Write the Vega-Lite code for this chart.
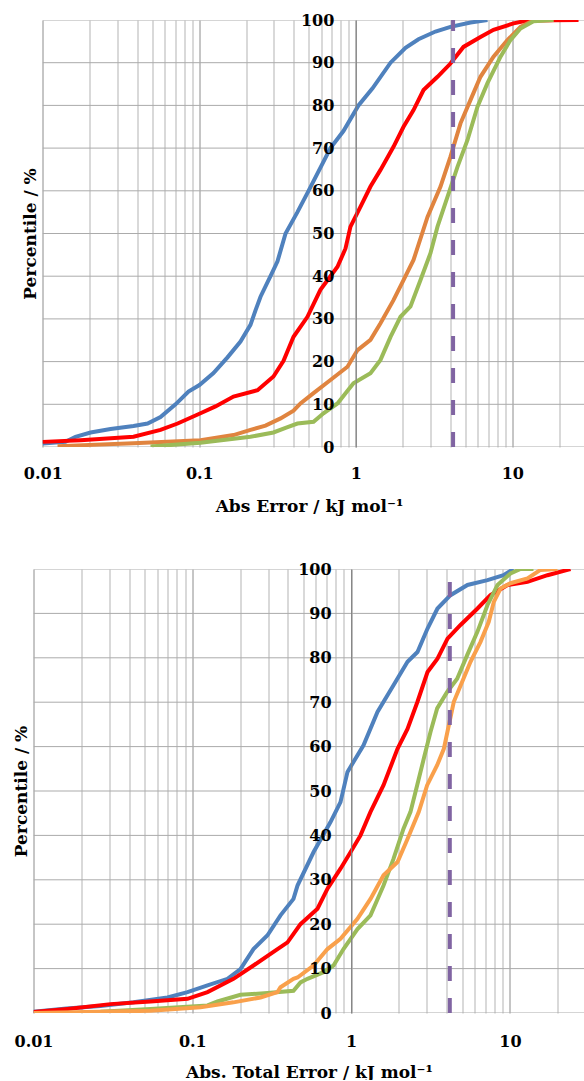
{
"$schema": "https://vega.github.io/schema/vega-lite/v6.json",
"background": "white",
"padding": {"left": 12.5, "top": 12, "right": 0, "bottom": 0},
"spacing": 47,
"config": {"view": {"stroke": null}},
"datasets": {
"gridY": [{"p":0},{"p":10},{"p":20},{"p":30},{"p":40},{"p":50},{"p":60},{"p":70},{"p":80},{"p":90},{"p":100}],
"kcal": [{"x": 4.184}],
"top": [
{"s":"S1","x":0.0100,"p":0.8},{"s":"S1","x":0.01396,"p":1.2},{"s":"S1","x":0.01618,"p":2.4},{"s":"S1","x":0.0202,"p":3.4},{"s":"S1","x":0.0271,"p":4.2},{"s":"S1","x":0.0380,"p":4.9},{"s":"S1","x":0.0467,"p":5.5},{"s":"S1","x":0.0565,"p":7},{"s":"S1","x":0.0705,"p":10},{"s":"S1","x":0.0853,"p":13},{"s":"S1","x":0.1002,"p":14.5},{"s":"S1","x":0.1232,"p":17.3},{"s":"S1","x":0.1514,"p":21},{"s":"S1","x":0.1833,"p":24.7},{"s":"S1","x":0.2123,"p":28.6},{"s":"S1","x":0.2286,"p":32},{"s":"S1","x":0.2461,"p":35.2},{"s":"S1","x":0.2891,"p":40.5},{"s":"S1","x":0.316,"p":43.5},{"s":"S1","x":0.3557,"p":50},{"s":"S1","x":0.4236,"p":55},{"s":"S1","x":0.4989,"p":60},{"s":"S1","x":0.6887,"p":70},{"s":"S1","x":0.8337,"p":74},{"s":"S1","x":1.040,"p":80},{"s":"S1","x":1.279,"p":84},{"s":"S1","x":1.667,"p":90},{"s":"S1","x":2.078,"p":93.5},{"s":"S1","x":2.515,"p":95.5},{"s":"S1","x":3.229,"p":97.3},{"s":"S1","x":4.027,"p":98.4},{"s":"S1","x":5.41,"p":99.4},{"s":"S1","x":6.94,"p":100},
{"s":"S2","x":0.0100,"p":1.2},{"s":"S2","x":0.01742,"p":1.6},{"s":"S2","x":0.0380,"p":2.4},{"s":"S2","x":0.0565,"p":4},{"s":"S2","x":0.0727,"p":5.5},{"s":"S2","x":0.1018,"p":7.9},{"s":"S2","x":0.1269,"p":9.5},{"s":"S2","x":0.1654,"p":11.8},{"s":"S2","x":0.2355,"p":13.3},{"s":"S2","x":0.2978,"p":16.5},{"s":"S2","x":0.3453,"p":20.2},{"s":"S2","x":0.400,"p":25.8},{"s":"S2","x":0.4909,"p":30.5},{"s":"S2","x":0.594,"p":36.8},{"s":"S2","x":0.7637,"p":42.2},{"s":"S2","x":0.8595,"p":46.5},{"s":"S2","x":0.9246,"p":51.6},{"s":"S2","x":1.072,"p":56.3},{"s":"S2","x":1.241,"p":61},{"s":"S2","x":1.438,"p":64.9},{"s":"S2","x":1.741,"p":70.3},{"s":"S2","x":2.018,"p":75},{"s":"S2","x":2.338,"p":78.9},{"s":"S2","x":2.708,"p":83.6},{"s":"S2","x":3.327,"p":86.7},{"s":"S2","x":4.027,"p":89.8},{"s":"S2","x":4.877,"p":93.7},{"s":"S2","x":6.26,"p":96},{"s":"S2","x":7.585,"p":97.7},{"s":"S2","x":10.18,"p":99.2},{"s":"S2","x":12.5,"p":99.9},{"s":"S2","x":26.5,"p":100},
{"s":"S3","x":0.01242,"p":0.2},{"s":"S3","x":0.0380,"p":0.9},{"s":"S3","x":0.1018,"p":1.6},{"s":"S3","x":0.1654,"p":2.8},{"s":"S3","x":0.2123,"p":4},{"s":"S3","x":0.2649,"p":5},{"s":"S3","x":0.3305,"p":6.7},{"s":"S3","x":0.400,"p":8.5},{"s":"S3","x":0.4431,"p":10.2},{"s":"S3","x":0.537,"p":12.6},{"s":"S3","x":0.6887,"p":15.7},{"s":"S3","x":0.885,"p":18.8},{"s":"S3","x":1.026,"p":22.7},{"s":"S3","x":1.241,"p":25.1},{"s":"S3","x":1.438,"p":29},{"s":"S3","x":1.741,"p":34.4},{"s":"S3","x":2.018,"p":39.1},{"s":"S3","x":2.338,"p":43.8},{"s":"S3","x":2.872,"p":53.9},{"s":"S3","x":3.478,"p":61},{"s":"S3","x":4.027,"p":68},{"s":"S3","x":4.667,"p":75.8},{"s":"S3","x":5.41,"p":81.3},{"s":"S3","x":6.26,"p":86.7},{"s":"S3","x":7.585,"p":91.4},{"s":"S3","x":9.31,"p":95.3},{"s":"S3","x":11.28,"p":98.4},{"s":"S3","x":13.66,"p":99.9},{"s":"S3","x":18.33,"p":100},
{"s":"S4","x":0.0488,"p":0.1},{"s":"S4","x":0.1018,"p":1},{"s":"S4","x":0.2123,"p":2.4},{"s":"S4","x":0.2978,"p":3.4},{"s":"S4","x":0.3557,"p":4.5},{"s":"S4","x":0.4236,"p":5.5},{"s":"S4","x":0.537,"p":5.9},{"s":"S4","x":0.6218,"p":7.9},{"s":"S4","x":0.7637,"p":10.2},{"s":"S4","x":0.966,"p":14.9},{"s":"S4","x":1.241,"p":17.3},{"s":"S4","x":1.438,"p":20.4},{"s":"S4","x":1.667,"p":25.8},{"s":"S4","x":1.930,"p":30.5},{"s":"S4","x":2.236,"p":32.9},{"s":"S4","x":2.591,"p":39.1},{"s":"S4","x":3.0,"p":45.4},{"s":"S4","x":3.327,"p":51.6},{"s":"S4","x":3.854,"p":58.6},{"s":"S4","x":4.464,"p":65.6},{"s":"S4","x":5.173,"p":71.9},{"s":"S4","x":5.992,"p":79.7},{"s":"S4","x":6.94,"p":85.2},{"s":"S4","x":8.41,"p":91.4},{"s":"S4","x":9.73,"p":95.3},{"s":"S4","x":11.28,"p":98},{"s":"S4","x":13.66,"p":99.7},{"s":"S4","x":18.33,"p":100}
],
"bot": [
{"s":"S1","x":0.0100,"p":0.3},{"s":"S1","x":0.01614,"p":1},{"s":"S1","x":0.02642,"p":1.6},{"s":"S1","x":0.04264,"p":2.4},{"s":"S1","x":0.0698,"p":3.5},{"s":"S1","x":0.0933,"p":4.7},{"s":"S1","x":0.1247,"p":6.2},{"s":"S1","x":0.1666,"p":7.7},{"s":"S1","x":0.2011,"p":9.9},{"s":"S1","x":0.2428,"p":14.4},{"s":"S1","x":0.2976,"p":17.5},{"s":"S1","x":0.3592,"p":22},{"s":"S1","x":0.4337,"p":25.7},{"s":"S1","x":0.4597,"p":28.7},{"s":"S1","x":0.5796,"p":36.2},{"s":"S1","x":0.7419,"p":43},{"s":"S1","x":0.8574,"p":47.5},{"s":"S1","x":0.9491,"p":54.3},{"s":"S1","x":1.197,"p":60.3},{"s":"S1","x":1.466,"p":67.8},{"s":"S1","x":1.849,"p":73.8},{"s":"S1","x":2.266,"p":79.1},{"s":"S1","x":2.618,"p":81.3},{"s":"S1","x":3.029,"p":86.6},{"s":"S1","x":3.499,"p":91.1},{"s":"S1","x":4.227,"p":94.1},{"s":"S1","x":5.408,"p":96.4},{"s":"S1","x":7.228,"p":97.5},{"s":"S1","x":9.116,"p":98.6},{"s":"S1","x":10.54,"p":100},
{"s":"S2","x":0.0100,"p":0.2},{"s":"S2","x":0.01637,"p":0.9},{"s":"S2","x":0.03054,"p":2},{"s":"S2","x":0.05455,"p":2.6},{"s":"S2","x":0.0933,"p":3.2},{"s":"S2","x":0.1247,"p":4.7},{"s":"S2","x":0.1817,"p":7.7},{"s":"S2","x":0.2428,"p":10.7},{"s":"S2","x":0.3439,"p":14.4},{"s":"S2","x":0.3977,"p":15.9},{"s":"S2","x":0.4801,"p":20},{"s":"S2","x":0.6143,"p":23.5},{"s":"S2","x":0.7102,"p":28},{"s":"S2","x":0.8574,"p":32.5},{"s":"S2","x":0.9913,"p":36.2},{"s":"S2","x":1.146,"p":40},{"s":"S2","x":1.325,"p":45.3},{"s":"S2","x":1.600,"p":51.3},{"s":"S2","x":1.960,"p":59.5},{"s":"S2","x":2.266,"p":64},{"s":"S2","x":2.618,"p":70.1},{"s":"S2","x":3.029,"p":76.8},{"s":"S2","x":3.499,"p":79.8},{"s":"S2","x":4.047,"p":84.3},{"s":"S2","x":4.887,"p":87.4},{"s":"S2","x":6.252,"p":91.1},{"s":"S2","x":7.545,"p":94.1},{"s":"S2","x":9.66,"p":96.4},{"s":"S2","x":12.91,"p":97.1},{"s":"S2","x":17.25,"p":98.6},{"s":"S2","x":23.05,"p":99.8},{"s":"S2","x":24.07,"p":100},
{"s":"S3","x":0.02642,"p":0.3},{"s":"S3","x":0.05455,"p":0.9},{"s":"S3","x":0.1247,"p":1.7},{"s":"S3","x":0.1441,"p":2.6},{"s":"S3","x":0.2011,"p":4.1},{"s":"S3","x":0.2976,"p":4.5},{"s":"S3","x":0.4337,"p":5},{"s":"S3","x":0.4801,"p":6.9},{"s":"S3","x":0.5313,"p":7.7},{"s":"S3","x":0.6706,"p":9.2},{"s":"S3","x":0.7747,"p":10.7},{"s":"S3","x":0.8956,"p":14.4},{"s":"S3","x":1.097,"p":18.9},{"s":"S3","x":1.325,"p":22},{"s":"S3","x":1.600,"p":28.7},{"s":"S3","x":1.849,"p":34.7},{"s":"S3","x":2.138,"p":41.5},{"s":"S3","x":2.366,"p":45.3},{"s":"S3","x":2.607,"p":51.3},{"s":"S3","x":2.87,"p":57.3},{"s":"S3","x":3.162,"p":63.3},{"s":"S3","x":3.483,"p":68.6},{"s":"S3","x":4.027,"p":72.3},{"s":"S3","x":4.656,"p":75.3},{"s":"S3","x":5.383,"p":80.6},{"s":"S3","x":6.25,"p":85.9},{"s":"S3","x":7.228,"p":91.9},{"s":"S3","x":8.356,"p":96.4},{"s":"S3","x":10.09,"p":99},{"s":"S3","x":11.66,"p":100},{"s":"S3","x":14.08,"p":100},
{"s":"S4","x":0.0100,"p":0},{"s":"S4","x":0.05455,"p":0.5},{"s":"S4","x":0.1126,"p":1.3},{"s":"S4","x":0.1817,"p":2.4},{"s":"S4","x":0.2689,"p":3.5},{"s":"S4","x":0.3439,"p":4.7},{"s":"S4","x":0.3592,"p":5.8},{"s":"S4","x":0.4337,"p":7.7},{"s":"S4","x":0.4597,"p":8},{"s":"S4","x":0.5796,"p":10.7},{"s":"S4","x":0.7102,"p":14.4},{"s":"S4","x":0.8574,"p":16.7},{"s":"S4","x":1.097,"p":21.2},{"s":"S4","x":1.325,"p":25.7},{"s":"S4","x":1.600,"p":31},{"s":"S4","x":1.960,"p":34},{"s":"S4","x":2.266,"p":39.2},{"s":"S4","x":2.669,"p":45.3},{"s":"S4","x":3.013,"p":51.3},{"s":"S4","x":3.483,"p":55.8},{"s":"S4","x":3.837,"p":59.5},{"s":"S4","x":4.124,"p":64.8},{"s":"S4","x":4.434,"p":70.1},{"s":"S4","x":5.008,"p":74.6},{"s":"S4","x":5.649,"p":79.1},{"s":"S4","x":6.531,"p":83.6},{"s":"S4","x":7.36,"p":88.1},{"s":"S4","x":7.92,"p":92.6},{"s":"S4","x":8.73,"p":95.6},{"s":"S4","x":10.09,"p":96.8},{"s":"S4","x":12.91,"p":97.9},{"s":"S4","x":15.58,"p":99.8},{"s":"S4","x":19.94,"p":100}
]
},
"vconcat": [
{
"width": 551, "height": 427,
"layer": [
{"data": {"name": "gridY"}, "mark": {"type": "rule", "color": "#ABABAB", "strokeWidth": 1, "clip": true},
 "encoding": {
  "y": {"field": "p", "type": "quantitative", "scale": {"domain": [0, 100], "nice": false}},
  "x": {"datum": 0.01, "type": "quantitative", "scale": {"type": "log", "domain": [0.00872, 28.93], "nice": false}},
  "x2": {"datum": 1000}}},
{"data": {"name": "top"}, "mark": {"type": "line", "strokeWidth": 4, "clip": true},
 "encoding": {
  "x": {"field": "x", "type": "quantitative", "scale": {"type": "log", "domain": [0.00872, 28.93], "nice": false},
   "axis": {"values": [0.01,0.02,0.03,0.04,0.05,0.06,0.07,0.08,0.09,0.1,0.2,0.3,0.4,0.5,0.6,0.7,0.8,0.9,1,2,3,4,5,6,7,8,9,10,20], "format": "~g",
    "labelExpr": "(datum.value==0.01||datum.value==0.1||datum.value==1||datum.value==10) ? datum.label : ''",
    "grid": true, "gridColor": {"condition": {"test": "datum.value==0.01||datum.value==0.1||datum.value==1||datum.value==10", "value": "#8C8C8C"}, "value": "#B3B3B3"}, "gridWidth": 1,
    "domain": false, "ticks": false, "tickSize": 0, "labelFlush": false, "labelOverlap": false, "labelPadding": 18,
    "labelFont": "DejaVu Serif", "labelFontWeight": "bold", "labelFontSize": 16, "labelColor": "#000000",
    "title": "Abs Error / kJ mol⁻¹", "titleFont": "DejaVu Serif", "titleFontWeight": "bold", "titleFontSize": 17, "titleColor": "#000000", "titlePadding": 17}},
  "y": {"field": "p", "type": "quantitative", "scale": {"domain": [0, 100], "nice": false},
   "axis": {"values": [0,10,20,30,40,50,60,70,80,90,100], "grid": false, "ticks": false, "tickSize": 0, "domain": true, "domainColor": "#808080", "domainWidth": 1,
    "offset": -322.3, "labelPadding": 22, "zindex": 1,
    "labelFont": "DejaVu Serif", "labelFontWeight": "bold", "labelFontSize": 16, "labelColor": "#000000",
    "title": "Percentile / %", "titleFont": "DejaVu Serif", "titleFontWeight": "bold", "titleFontSize": 17, "titleColor": "#000000", "titleX": -325, "titleBaseline": "middle"}},
  "color": {"field": "s", "type": "nominal", "scale": {"domain": ["S1","S2","S3","S4"], "range": ["#4F81BD","#FF0000","#E0843F","#9BBB59"]}, "legend": null}}},
{"data": {"name": "kcal"}, "mark": {"type": "rule", "color": "#8064A2", "strokeWidth": 4, "strokeDash": [15, 17]},
 "encoding": {
  "x": {"field": "x", "type": "quantitative", "scale": {"type": "log", "domain": [0.00872, 28.93], "nice": false}},
  "y": {"datum": 0, "type": "quantitative"},
  "y2": {"datum": 100}}}
]
},
{
"width": 551, "height": 444,
"layer": [
{"data": {"name": "gridY"}, "mark": {"type": "rule", "color": "#ABABAB", "strokeWidth": 1, "clip": true},
 "encoding": {
  "y": {"field": "p", "type": "quantitative", "scale": {"domain": [0, 100], "nice": false}},
  "x": {"datum": 0.01, "type": "quantitative", "scale": {"type": "log", "domain": [0.01, 29.5], "nice": false}},
  "x2": {"datum": 1000}}},
{"data": {"name": "bot"}, "mark": {"type": "line", "strokeWidth": 4, "clip": true},
 "encoding": {
  "x": {"field": "x", "type": "quantitative", "scale": {"type": "log", "domain": [0.01, 29.5], "nice": false},
   "axis": {"values": [0.01,0.02,0.03,0.04,0.05,0.06,0.07,0.08,0.09,0.1,0.2,0.3,0.4,0.5,0.6,0.7,0.8,0.9,1,2,3,4,5,6,7,8,9,10,20], "format": "~g",
    "labelExpr": "(datum.value==0.01||datum.value==0.1||datum.value==1||datum.value==10) ? datum.label : ''",
    "grid": true, "gridColor": {"condition": {"test": "datum.value==0.01||datum.value==0.1||datum.value==1||datum.value==10", "value": "#8C8C8C"}, "value": "#B3B3B3"}, "gridWidth": 1,
    "domain": false, "ticks": false, "tickSize": 0, "labelFlush": false, "labelOverlap": false, "labelPadding": 20,
    "labelFont": "DejaVu Serif", "labelFontWeight": "bold", "labelFontSize": 16, "labelColor": "#000000",
    "title": "Abs. Total Error / kJ mol⁻¹", "titleFont": "DejaVu Serif", "titleFontWeight": "bold", "titleFontSize": 17, "titleColor": "#000000", "titlePadding": 15}},
  "y": {"field": "p", "type": "quantitative", "scale": {"domain": [0, 100], "nice": false},
   "axis": {"values": [0,10,20,30,40,50,60,70,80,90,100], "grid": false, "ticks": false, "tickSize": 0, "domain": true, "domainColor": "#808080", "domainWidth": 1,
    "offset": -317.6, "labelPadding": 20, "zindex": 1,
    "labelFont": "DejaVu Serif", "labelFontWeight": "bold", "labelFontSize": 16, "labelColor": "#000000",
    "title": "Percentile / %", "titleFont": "DejaVu Serif", "titleFontWeight": "bold", "titleFontSize": 17, "titleColor": "#000000", "titleX": -329.6, "titleBaseline": "middle"}},
  "color": {"field": "s", "type": "nominal", "scale": {"domain": ["S1","S2","S3","S4"], "range": ["#4F81BD","#FF0000","#9BBB59","#F9A04B"]}, "legend": null}}},
{"data": {"name": "kcal"}, "mark": {"type": "rule", "color": "#8064A2", "strokeWidth": 4, "strokeDash": [15, 17]},
 "encoding": {
  "x": {"field": "x", "type": "quantitative", "scale": {"type": "log", "domain": [0.01, 29.5], "nice": false}},
  "y": {"datum": 0, "type": "quantitative"},
  "y2": {"datum": 100}}}
]
}
],
"resolve": {"scale": {"color": "independent"}}
}
